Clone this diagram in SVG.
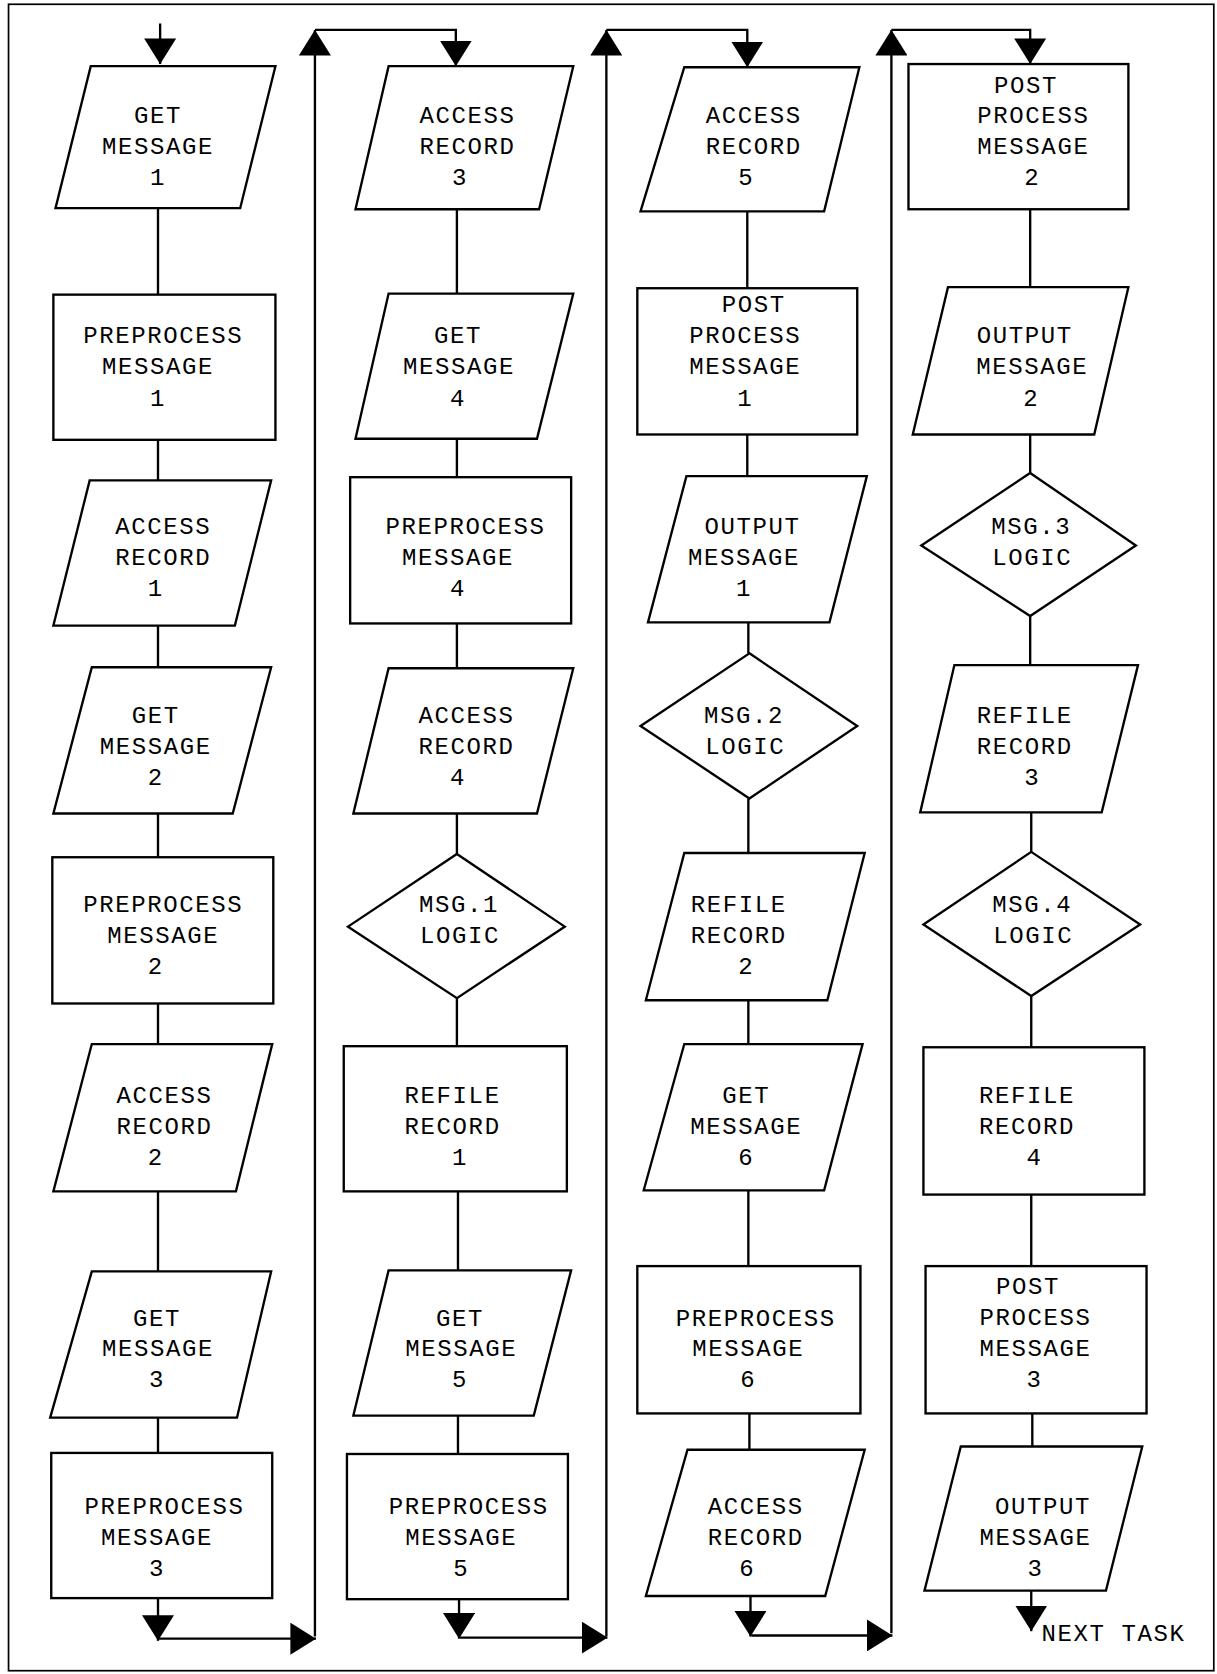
<svg xmlns="http://www.w3.org/2000/svg" width="1217" height="1674" viewBox="0 0 1217 1674">
<style>
.s{fill:#fff;stroke:#000;stroke-width:2.2;stroke-linejoin:miter}
.t{font-family:"Liberation Mono","Courier New",monospace;font-size:22.5px;letter-spacing:1.5px;fill:#000;text-anchor:middle}
.c{fill:none;stroke:#000;stroke-width:2.2}
.b{fill:none;stroke:#000;stroke-width:1.6}
</style>
<defs>
<marker id="ah" viewBox="0 0 24 30" refX="24" refY="15" markerWidth="24" markerHeight="30" orient="auto" markerUnits="userSpaceOnUse">
<path d="M0,0 L24,15 L0,30 z" fill="#000"/>
</marker>
</defs>
<rect width="1217" height="1674" fill="#fff"/>
<g transform="scale(1.06754)">
<rect class="b" x="8" y="4" width="1129" height="1561"/>

<g id="connectors">
<path class="c" d="M148,195V276M148,412V450M148,586V625M148,762V803M148,940V978M148,1116V1191M148,1328V1361"/>
<path class="c" d="M428,196V275M428,411V447M428,584V626M428,762V800M428,935V980M429,1116V1190M429,1326V1362"/>
<path class="c" d="M700,198V270M700,407V446M701,583V612M701,748V799M701,937V978M701,1115V1186M702,1324V1358"/>
<path class="c" d="M965,196V269M965,407V443M965,577V623M966,761V798M966,933V981M966,1119V1186M967,1324V1355"/>
<path class="c" d="M150,22V60" marker-end="url(#ah)"/>
<path class="c" d="M148,1497V1537" marker-end="url(#ah)"/>
<path class="c" d="M149,1535H296" marker-end="url(#ah)"/>
<path class="c" d="M295,1533V28" marker-end="url(#ah)"/>
<path class="c" d="M295,28H427V62" marker-end="url(#ah)"/>
<path class="c" d="M430,1498V1535" marker-end="url(#ah)"/>
<path class="c" d="M431,1534H569" marker-end="url(#ah)"/>
<path class="c" d="M568,1533V28" marker-end="url(#ah)"/>
<path class="c" d="M568,28H700V63" marker-end="url(#ah)"/>
<path class="c" d="M703,1495V1533" marker-end="url(#ah)"/>
<path class="c" d="M704,1532H836" marker-end="url(#ah)"/>
<path class="c" d="M835,1530V28" marker-end="url(#ah)"/>
<path class="c" d="M835,28H965V60" marker-end="url(#ah)"/>
<path class="c" d="M966,1490V1528" marker-end="url(#ah)"/>
</g>

<g id="n1"><polygon class="s" points="85,62 258,62 225,195 52,195"/><text class="t" x="148" y="115">GET</text><text class="t" x="148" y="144">MESSAGE</text><text class="t" x="148" y="173">1</text></g>
<g id="n2"><rect class="s" x="50" y="276" width="208" height="136"/><text class="t" x="153" y="321">PREPROCESS</text><text class="t" x="148" y="350">MESSAGE</text><text class="t" x="148" y="380">1</text></g>
<g id="n3"><polygon class="s" points="84,450 254,450 220,586 50,586"/><text class="t" x="153" y="500">ACCESS</text><text class="t" x="153" y="529">RECORD</text><text class="t" x="146" y="558">1</text></g>
<g id="n4"><polygon class="s" points="86,625 254,625 218,762 50,762"/><text class="t" x="146" y="677">GET</text><text class="t" x="146" y="706">MESSAGE</text><text class="t" x="146" y="735">2</text></g>
<g id="n5"><rect class="s" x="49" y="803" width="207" height="137"/><text class="t" x="153" y="854">PREPROCESS</text><text class="t" x="153" y="883">MESSAGE</text><text class="t" x="146" y="912">2</text></g>
<g id="n6"><polygon class="s" points="86,978 255,978 221,1116 50,1116"/><text class="t" x="154" y="1033">ACCESS</text><text class="t" x="154" y="1062">RECORD</text><text class="t" x="146" y="1091">2</text></g>
<g id="n7"><polygon class="s" points="86,1191 254,1191 222,1328 47,1328"/><text class="t" x="147" y="1242">GET</text><text class="t" x="148" y="1270">MESSAGE</text><text class="t" x="147" y="1299">3</text></g>
<g id="n8"><rect class="s" x="48" y="1361" width="207" height="136"/><text class="t" x="154" y="1418">PREPROCESS</text><text class="t" x="147" y="1447">MESSAGE</text><text class="t" x="147" y="1476">3</text></g>

<g id="n9"><polygon class="s" points="364,62 537,62 505,196 333,196"/><text class="t" x="438" y="115">ACCESS</text><text class="t" x="438" y="144">RECORD</text><text class="t" x="431" y="173">3</text></g>
<g id="n10"><polygon class="s" points="364,275 537,275 503,411 333,411"/><text class="t" x="429" y="321">GET</text><text class="t" x="430" y="350">MESSAGE</text><text class="t" x="429" y="380">4</text></g>
<g id="n11"><rect class="s" x="328" y="447" width="207" height="137"/><text class="t" x="436" y="500">PREPROCESS</text><text class="t" x="429" y="529">MESSAGE</text><text class="t" x="429" y="558">4</text></g>
<g id="n12"><polygon class="s" points="364,626 537,626 503,762 331,762"/><text class="t" x="437" y="677">ACCESS</text><text class="t" x="437" y="706">RECORD</text><text class="t" x="429" y="735">4</text></g>
<g id="n13"><polygon class="s" points="428,800 529,868 428,935 326,868"/><text class="t" x="430" y="854">MSG.1</text><text class="t" x="431" y="883">LOGIC</text></g>
<g id="n14"><rect class="s" x="322" y="980" width="209" height="136"/><text class="t" x="424" y="1033">REFILE</text><text class="t" x="424" y="1062">RECORD</text><text class="t" x="431" y="1091">1</text></g>
<g id="n15"><polygon class="s" points="364,1190 535,1190 500,1326 331,1326"/><text class="t" x="431" y="1242">GET</text><text class="t" x="432" y="1270">MESSAGE</text><text class="t" x="431" y="1299">5</text></g>
<g id="n16"><rect class="s" x="325" y="1362" width="207" height="136"/><text class="t" x="439" y="1418">PREPROCESS</text><text class="t" x="432" y="1447">MESSAGE</text><text class="t" x="432" y="1476">5</text></g>

<g id="n17"><polygon class="s" points="641,63 805,63 772,198 600,198"/><text class="t" x="706" y="115">ACCESS</text><text class="t" x="706" y="144">RECORD</text><text class="t" x="699" y="173">5</text></g>
<g id="n18"><rect class="s" x="597" y="270" width="206" height="137"/><text class="t" x="706" y="292">POST</text><text class="t" x="698" y="321">PROCESS</text><text class="t" x="698" y="350">MESSAGE</text><text class="t" x="698" y="380">1</text></g>
<g id="n19"><polygon class="s" points="643,446 812,446 777,583 607,583"/><text class="t" x="705" y="500">OUTPUT</text><text class="t" x="697" y="529">MESSAGE</text><text class="t" x="697" y="558">1</text></g>
<g id="n20"><polygon class="s" points="702,612 803,680 702,748 600,680"/><text class="t" x="697" y="677">MSG.2</text><text class="t" x="698" y="706">LOGIC</text></g>
<g id="n21"><polygon class="s" points="641,799 810,799 775,937 605,937"/><text class="t" x="692" y="854">REFILE</text><text class="t" x="692" y="883">RECORD</text><text class="t" x="699" y="912">2</text></g>
<g id="n22"><polygon class="s" points="641,978 808,978 772,1115 603,1115"/><text class="t" x="699" y="1033">GET</text><text class="t" x="699" y="1062">MESSAGE</text><text class="t" x="699" y="1091">6</text></g>
<g id="n23"><rect class="s" x="597" y="1186" width="209" height="138"/><text class="t" x="708" y="1242">PREPROCESS</text><text class="t" x="701" y="1270">MESSAGE</text><text class="t" x="701" y="1299">6</text></g>
<g id="n24"><polygon class="s" points="644,1358 810,1358 773,1495 605,1495"/><text class="t" x="708" y="1418">ACCESS</text><text class="t" x="708" y="1447">RECORD</text><text class="t" x="700" y="1476">6</text></g>

<g id="n25"><rect class="s" x="851" y="60" width="206" height="136"/><text class="t" x="961" y="87">POST</text><text class="t" x="968" y="115">PROCESS</text><text class="t" x="968" y="144">MESSAGE</text><text class="t" x="967" y="173">2</text></g>
<g id="n26"><polygon class="s" points="888,269 1057,269 1025,407 855,407"/><text class="t" x="960" y="321">OUTPUT</text><text class="t" x="967" y="350">MESSAGE</text><text class="t" x="966" y="380">2</text></g>
<g id="n27"><polygon class="s" points="965,443 1064,511 965,577 863,511"/><text class="t" x="966" y="500">MSG.3</text><text class="t" x="967" y="529">LOGIC</text></g>
<g id="n28"><polygon class="s" points="894,623 1066,623 1032,761 862,761"/><text class="t" x="960" y="677">REFILE</text><text class="t" x="960" y="706">RECORD</text><text class="t" x="967" y="735">3</text></g>
<g id="n29"><polygon class="s" points="966,798 1068,866 966,933 865,866"/><text class="t" x="967" y="854">MSG.4</text><text class="t" x="968" y="883">LOGIC</text></g>
<g id="n30"><rect class="s" x="865" y="981" width="207" height="138"/><text class="t" x="962" y="1033">REFILE</text><text class="t" x="962" y="1062">RECORD</text><text class="t" x="969" y="1091">4</text></g>
<g id="n31"><rect class="s" x="867" y="1186" width="207" height="138"/><text class="t" x="963" y="1212">POST</text><text class="t" x="970" y="1241">PROCESS</text><text class="t" x="970" y="1270">MESSAGE</text><text class="t" x="969" y="1299">3</text></g>
<g id="n32"><polygon class="s" points="900,1355 1070,1355 1036,1490 866,1490"/><text class="t" x="977" y="1418">OUTPUT</text><text class="t" x="970" y="1447">MESSAGE</text><text class="t" x="970" y="1476">3</text></g>

<g id="next"><text class="t" x="1043" y="1537">NEXT TASK</text></g>
</g>
</svg>
